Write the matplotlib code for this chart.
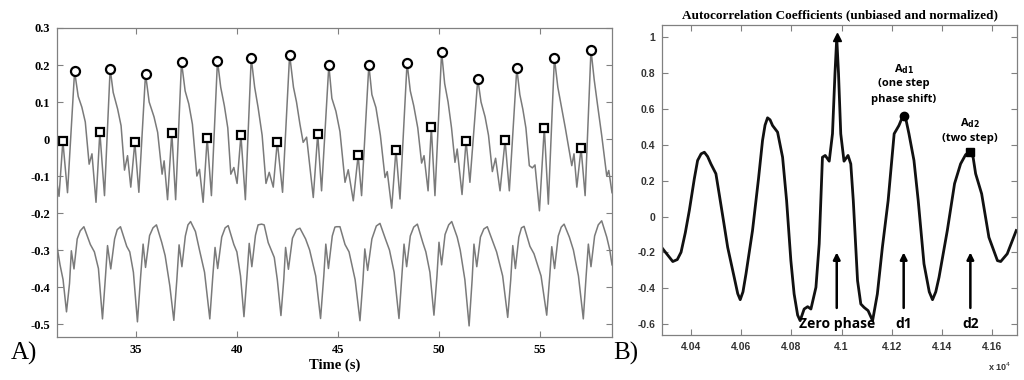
import numpy as np
import matplotlib
matplotlib.use("Agg")
import matplotlib.pyplot as plt
from matplotlib.ticker import FuncFormatter

# ---- DATA: panel A (time series, seconds) ----
top_t = [31.10, 31.20, 31.39, 31.62, 31.97,
         32.15, 32.33, 32.50, 32.69, 32.83, 33.03, 33.22, 33.45, 33.73,
         33.88, 34.10, 34.27, 34.44, 34.59, 34.75, 34.95, 35.15, 35.48,
         35.66, 35.90, 36.08, 36.30, 36.40, 36.57, 36.78, 36.97, 37.26,
         37.44, 37.62, 37.80, 38.02, 38.15, 38.33, 38.53, 38.74, 39.04,
         39.20, 39.38, 39.55, 39.70, 39.85, 40.01, 40.20, 40.42, 40.71,
         40.88, 41.05, 41.25, 41.44, 41.60, 41.80, 42.00, 42.26, 42.61,
         42.80, 42.95, 43.12, 43.28, 43.45, 43.78, 44.00, 44.19, 44.55,
         44.70, 44.90, 45.10, 45.35, 45.51, 45.76, 46.00, 46.17, 46.53,
         46.68, 46.88, 47.10, 47.33, 47.44, 47.66, 47.87, 48.07, 48.42,
         48.58, 48.75, 48.95, 49.14, 49.26, 49.46, 49.62, 49.80, 50.13,
         50.28, 50.45, 50.62, 50.79, 50.90, 51.14, 51.34, 51.53, 51.92,
         52.08, 52.28, 52.45, 52.64, 52.80, 53.02, 53.27, 53.48, 53.85,
         54.00, 54.15, 54.30, 54.47, 54.62, 54.75, 54.97, 55.21, 55.41, 55.71,
         55.88, 56.05, 56.25, 56.57, 56.68, 56.82, 57.03, 57.23, 57.52,
         57.68, 57.85, 58.05, 58.30, 58.40, 58.56]
top_v = [-0.120, -0.155, -0.006, -0.145, 0.183,
         0.115, 0.086, 0.046, -0.068, -0.040, -0.171, 0.019, -0.153, 0.190,
         0.126, 0.081, 0.036, -0.084, -0.045, -0.130, -0.009, -0.144, 0.176,
         0.100, 0.060, 0.018, -0.095, -0.059, -0.164, 0.017, -0.164, 0.208,
         0.130, 0.095, 0.040, -0.100, -0.082, -0.171, 0.003, -0.153, 0.212,
         0.140, 0.090, 0.030, -0.095, -0.077, -0.120, 0.010, -0.164, 0.219,
         0.140, 0.085, 0.010, -0.120, -0.090, -0.130, -0.007, -0.144, 0.228,
         0.140, 0.100, 0.040, -0.009, 0.005, -0.158, 0.014, -0.140, 0.199,
         0.110, 0.075, 0.020, -0.117, -0.083, -0.167, -0.044, -0.153, 0.200,
         0.120, 0.085, 0.010, -0.104, -0.088, -0.187, -0.029, -0.162, 0.206,
         0.130, 0.090, 0.030, -0.065, -0.045, -0.140, 0.032, -0.153, 0.235,
         0.150, 0.100, 0.030, -0.063, -0.027, -0.150, -0.005, -0.117, 0.162,
         0.100, 0.060, 0.010, -0.088, -0.052, -0.140, -0.004, -0.140, 0.191,
         0.120, 0.080, 0.030, -0.072, -0.078, -0.070, -0.194, 0.031, -0.176, 0.219,
         0.140, 0.090, 0.030, -0.072, -0.040, -0.130, -0.025, -0.153, 0.241,
         0.160, 0.090, 0.010, -0.100, -0.085, -0.145]

bot_t = [31.10, 31.25, 31.40, 31.57,
         31.72, 31.81, 31.94, 32.10, 32.25, 32.43, 32.75, 32.95, 33.15, 33.35,
         33.50, 33.60, 33.76, 33.95, 34.08, 34.24, 34.55, 34.70, 34.88, 35.08,
         35.24, 35.36, 35.48, 35.68, 35.85, 36.02, 36.28, 36.45, 36.68, 36.88,
         37.03, 37.14, 37.28, 37.45, 37.58, 37.71, 37.95, 38.15, 38.40, 38.66,
         38.81, 38.92, 39.05, 39.25, 39.42, 39.57, 39.85, 40.00, 40.18, 40.35,
         40.50, 40.61, 40.74, 40.92, 41.05, 41.22, 41.35, 41.55, 41.85, 42.00, 42.18,
         42.32, 42.41, 42.55, 42.75, 42.95, 43.12, 43.40, 43.60, 43.90, 44.14,
         44.30, 44.40, 44.53, 44.72, 44.85, 44.93, 45.10, 45.35, 45.55, 45.85, 46.09,
         46.24, 46.33, 46.47, 46.68, 46.90, 47.08, 47.35, 47.55, 47.78, 48.02,
         48.16, 48.27, 48.40, 48.58, 48.75, 48.93, 49.20, 49.35, 49.55, 49.75,
         49.90, 50.00, 50.13, 50.30, 50.48, 50.63, 50.90, 51.05, 51.28, 51.49,
         51.64, 51.73, 51.87, 52.05, 52.22, 52.39, 52.65, 52.85, 53.15, 53.40,
         53.55, 53.65, 53.78, 53.95, 54.08, 54.21, 54.50, 54.70, 55.05, 55.33,
         55.48, 55.58, 55.72, 55.90, 56.05, 56.19, 56.45, 56.65, 56.90, 57.14,
         57.28, 57.39, 57.52, 57.70, 57.88, 58.05, 58.30, 58.45, 58.56]
bot_v = [-0.290, -0.340, -0.380, -0.467,
         -0.390, -0.302, -0.351, -0.270, -0.248, -0.237, -0.285, -0.305, -0.350, -0.486,
         -0.370, -0.288, -0.351, -0.270, -0.245, -0.237, -0.290, -0.305, -0.360, -0.494,
         -0.370, -0.284, -0.347, -0.261, -0.240, -0.232, -0.279, -0.315, -0.396, -0.490,
         -0.380, -0.286, -0.345, -0.262, -0.232, -0.223, -0.250, -0.300, -0.360, -0.486,
         -0.370, -0.293, -0.350, -0.265, -0.240, -0.234, -0.285, -0.305, -0.370, -0.480,
         -0.370, -0.282, -0.345, -0.260, -0.232, -0.230, -0.232, -0.280, -0.320, -0.380, -0.477,
         -0.380, -0.293, -0.352, -0.268, -0.245, -0.241, -0.270, -0.300, -0.370, -0.485,
         -0.370, -0.284, -0.350, -0.262, -0.238, -0.237, -0.237, -0.285, -0.305, -0.380, -0.491,
         -0.380, -0.297, -0.355, -0.270, -0.235, -0.228, -0.270, -0.300, -0.360, -0.485,
         -0.370, -0.284, -0.345, -0.262, -0.238, -0.230, -0.280, -0.305, -0.360, -0.476,
         -0.370, -0.279, -0.340, -0.258, -0.232, -0.223, -0.265, -0.300, -0.380, -0.505,
         -0.380, -0.284, -0.345, -0.265, -0.243, -0.237, -0.275, -0.305, -0.370, -0.482,
         -0.380, -0.288, -0.350, -0.265, -0.240, -0.236, -0.290, -0.310, -0.370, -0.476,
         -0.370, -0.291, -0.350, -0.262, -0.238, -0.230, -0.265, -0.300, -0.370, -0.486,
         -0.370, -0.284, -0.345, -0.262, -0.232, -0.221, -0.265, -0.300, -0.340]

# detected peaks (circles) and secondary peaks (squares)
circle_t = [31.97, 33.73, 35.48, 37.26, 39.04, 40.71, 42.61, 44.55,
            46.53, 48.42, 50.13, 51.92, 53.85, 55.71, 57.52]
circle_v = [0.183, 0.190, 0.176, 0.208, 0.212, 0.219, 0.228, 0.199,
            0.200, 0.206, 0.235, 0.162, 0.191, 0.219, 0.241]
square_t = [31.39, 33.22, 34.95, 36.78, 38.53, 40.20, 42.00, 44.00,
            46.00, 47.87, 49.62, 51.34, 53.27, 55.21, 57.03]
square_v = [-0.006, 0.019, -0.009, 0.017, 0.003, 0.010, -0.007, 0.014,
            -0.044, -0.029, 0.032, -0.005, -0.004, 0.031, -0.025]

# ---- DATA: panel B (autocorrelation) ----
lag = [40287, 40327, 40345, 40360, 40377, 40393, 40413, 40426, 40440, 40453,
       40466, 40479, 40499, 40512, 40530, 40546, 40572, 40586, 40596, 40607,
       40619, 40645, 40669, 40685, 40695, 40705, 40715, 40725, 40745, 40765,
       40781, 40798, 40811, 40825, 40835, 40851, 40865, 40878, 40898, 40911,
       40924, 40935, 40951, 40964, 40974, 40981, 40988, 40997, 41010, 41026,
       41037, 41047, 41064, 41077, 41090, 41106, 41124, 41143, 41163, 41186,
       41210, 41229, 41240, 41249, 41258, 41269, 41289, 41306, 41329, 41350,
       41363, 41376, 41389, 41422, 41451, 41475, 41495, 41511, 41525, 41535,
       41559, 41588, 41622, 41635, 41661, 41697]
acf = [-0.180, -0.251, -0.240, -0.199, -0.090, 0.034, 0.212, 0.313, 0.350, 0.359,
       0.335, 0.294, 0.239, 0.127, -0.030, -0.172, -0.339, -0.430, -0.464, -0.420,
       -0.320, -0.078, 0.212, 0.425, 0.510, 0.551, 0.540, 0.508, 0.471, 0.331,
       0.089, -0.246, -0.432, -0.550, -0.581, -0.516, -0.503, -0.516, -0.395, -0.153,
       0.331, 0.341, 0.309, 0.462, 0.800, 0.998, 0.800, 0.462, 0.309, 0.341,
       0.294, 0.089, -0.358, -0.488, -0.507, -0.525, -0.581, -0.432, -0.172, 0.089,
       0.462, 0.508, 0.545, 0.560, 0.535, 0.462, 0.313, 0.089, -0.264, -0.420,
       -0.464, -0.420, -0.339, -0.078, 0.184, 0.294, 0.345, 0.363, 0.330, 0.239,
       0.127, -0.116, -0.246, -0.251, -0.208, -0.078]

zero_lag, zero_val = 40981, 1.0
d1_lag, d1_val = 41249, 0.56
d2_lag, d2_val = 41511, 0.363
arrow_labels = ["Zero phase", "d1", "d2"]
arrow_lags = [40981, 41248, 41514]

SERIF = ["Liberation Serif", "DejaVu Serif"]
SANS = ["Liberation Sans", "DejaVu Sans"]
ANN = ["Open Sans", "DejaVu Sans"]
SPINE = "#808080"

fig = plt.figure(figsize=(10.24, 3.8), dpi=100)

# ---- Panel A ----
ax1 = fig.add_axes([57 / 1024, 43 / 380, 555 / 1024, 309 / 380])
ax1.plot(top_t, top_v, color="#7a7a7a", linewidth=1.1)
ax1.plot(bot_t, bot_v, color="#7a7a7a", linewidth=1.1)
ax1.plot(circle_t, circle_v, linestyle="none", marker="o", markersize=6.5,
         markerfacecolor="white", markeredgecolor="black", markeredgewidth=1.6)
ax1.plot(square_t, square_v, linestyle="none", marker="s", markersize=5.5,
         markerfacecolor="white", markeredgecolor="black", markeredgewidth=1.6)
ax1.set_xlim(31.1, 58.56)
ax1.set_ylim(-0.535, 0.3)
ax1.set_xticks([35, 40, 45, 50, 55])
ax1.set_yticks([-0.5, -0.4, -0.3, -0.2, -0.1, 0, 0.1, 0.2, 0.3])
ax1.yaxis.set_major_formatter(FuncFormatter(lambda v, p: f"{v:g}"))
ax1.tick_params(direction="in", top=True, right=True, length=4,
                width=0.8, color=SPINE, pad=5)
for lab in ax1.get_xticklabels() + ax1.get_yticklabels():
    lab.set_fontfamily(SERIF)
    lab.set_fontweight("bold")
    lab.set_fontsize(9)
for sp in ax1.spines.values():
    sp.set_color(SPINE)
    sp.set_linewidth(0.9)
ax1.set_xlabel("Time (s)", family=SERIF, fontweight="bold", fontsize=10.5, labelpad=2)

# ---- Panel B ----
ax2 = fig.add_axes([662 / 1024, 45 / 380, 355 / 1024, 310 / 380])
ax2.plot(lag, acf, color="#111111", linewidth=2.0, solid_joinstyle="round")
ax2.plot([zero_lag], [zero_val], marker="^", markersize=6, color="black", linestyle="none")
ax2.plot([d1_lag], [d1_val], marker="o", markersize=6, color="black", linestyle="none")
ax2.plot([d2_lag], [d2_val], marker="s", markersize=6, color="black", linestyle="none")
ax2.set_xlim(40284, 41700)
ax2.set_ylim(-0.661, 1.069)
ax2.set_xticks([40400, 40600, 40800, 41000, 41200, 41400, 41600])
ax2.set_yticks([-0.6, -0.4, -0.2, 0, 0.2, 0.4, 0.6, 0.8, 1.0])
ax2.xaxis.set_major_formatter(FuncFormatter(lambda v, p: f"{v / 1e4:g}"))
ax2.yaxis.set_major_formatter(FuncFormatter(lambda v, p: f"{v:g}"))
ax2.tick_params(direction="in", top=True, right=True, length=4,
                width=0.8, color=SPINE, pad=5)
for lab in ax2.get_xticklabels() + ax2.get_yticklabels():
    lab.set_fontfamily(SANS)
    lab.set_fontweight("bold")
    lab.set_fontsize(7.5)
    lab.set_color("#333333")
for sp in ax2.spines.values():
    sp.set_color(SPINE)
    sp.set_linewidth(0.9)
ax2.set_title("Autocorrelation Coefficients (unbiased and normalized)",
              family=SERIF, fontweight="bold", fontsize=9.5, pad=5)

for name, x in zip(arrow_labels, arrow_lags):
    ax2.annotate("", xy=(x, -0.20), xytext=(x, -0.51),
                 arrowprops=dict(arrowstyle="-|>", color="black", lw=1.8,
                                 mutation_scale=10, shrinkA=0, shrinkB=0))
    ax2.text(x, -0.60, name, ha="center", va="center", family=ANN,
             fontweight="bold", fontsize=10)

ax2.text(d1_lag, 0.825, r"A$_{\mathbf{d1}}$", ha="center", va="center",
         family=ANN, fontweight="bold", fontsize=8)
ax2.text(d1_lag, 0.74, "(one step", ha="center", va="center",
         family=ANN, fontweight="bold", fontsize=8)
ax2.text(d1_lag, 0.655, "phase shift)", ha="center", va="center",
         family=ANN, fontweight="bold", fontsize=8)
ax2.text(d2_lag, 0.52, r"A$_{\mathbf{d2}}$", ha="center", va="center",
         family=ANN, fontweight="bold", fontsize=8)
ax2.text(d2_lag, 0.435, "(two step)", ha="center", va="center",
         family=ANN, fontweight="bold", fontsize=8)

fig.text(1000 / 1024, 1 - 367 / 380, r"x 10$^{4}$", ha="center", va="center",
         family=SANS, fontweight="bold", fontsize=6.5, color="#333333")

# panel letters
fig.text(24 / 1024, 1 - 353 / 380, "A)", ha="center", va="center",
         family=SERIF, fontsize=18)
fig.text(626 / 1024, 1 - 353 / 380, "B)", ha="center", va="center",
         family=SERIF, fontsize=18)

fig.savefig("out.png", dpi=100)
